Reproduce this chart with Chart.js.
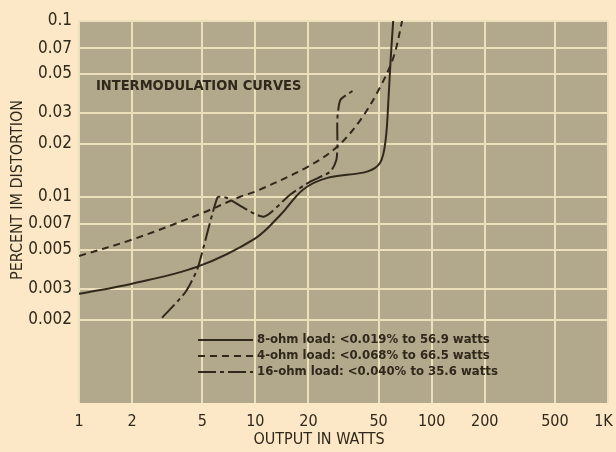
<!DOCTYPE html>
<html>
<head>
<meta charset="utf-8">
<script src="https://cdn.jsdelivr.net/npm/chart.js@4.4.0/dist/chart.umd.min.js"></script>
<style>
    html, body { margin: 0; padding: 0; background: #fce8c6; }
    #grafica { display: block; }
</style>
</head>
<body>
<canvas id="grafica" width="616" height="452"></canvas>
<script>
//marcas de los ejes
const ticksX = [1, 2, 5, 10, 20, 50, 100, 200, 500, 1000]
const etiquetasX = ['1', '2', '5', '10', '20', '50', '100', '200', '500', '1K']
const ticksY = [0.1, 0.07, 0.05, 0.03, 0.02, 0.01, 0.007, 0.005, 0.003, 0.002]
const etiquetasY = ['0.1', '0.07', '0.05', '0.03', '0.02', '0.01', '0.007', '0.005', '0.003', '0.002']

//curva solida (watts / % IM)
const solidaW = [1, 2, 4.7, 10, 13.9, 18.7, 25.6, 43, 51, 54.8, 56.9, 58.5, 60.5]
const solidaIM = [0.0028, 0.0032, 0.004, 0.0058, 0.0079, 0.011, 0.0128, 0.0139, 0.0156, 0.021, 0.036, 0.06, 0.1]

//curva a trazos
const trazosW = [1, 2, 4.9, 8.2, 10, 19.8, 29.2, 39.5, 51, 61, 68]
const trazosIM = [0.0046, 0.0057, 0.008, 0.01, 0.0107, 0.0148, 0.0193, 0.0274, 0.042, 0.063, 0.1]

//curva trazo-punto
const puntoW = [2.96, 4.0, 4.7, 6.1, 6.8, 11.1, 15.8, 20.5, 26.7, 28.8, 29.2, 29.2, 30.4, 35.6]
const puntoIM = [0.00205, 0.00285, 0.0039, 0.0099, 0.0099, 0.0077, 0.0103, 0.0122, 0.0139, 0.0162, 0.019, 0.028, 0.0356, 0.04]

//textos
const titulo = 'INTERMODULATION CURVES'
const tituloY = 'PERCENT IM DISTORTION'
const tituloX = 'OUTPUT IN WATTS'
const leyenda = ['8-ohm load: <0.019% to 56.9 watts', '4-ohm load: <0.068% to 66.5 watts', '16-ohm load: <0.040% to 35.6 watts']

const tinta = 'rgb(48, 40, 26)'
const fuente = '"Liberation Sans Narrow", "DejaVu Sans Condensed", sans-serif'

function puntos(xs, ys) {
    return xs.map(function (x, i) {
        return { x: x, y: ys[i] };
    });
}

const estilos = [
    { dash: [], tension: 0.35 },
    { dash: [7, 5], tension: 0.35 },
    { dash: [18, 4, 4, 4], tension: 0.2 }
]

//fondo, textos y leyenda
const decorado = {
    id: 'decorado',
    beforeDraw(chart) {
        const ctx = chart.ctx
        const a = chart.chartArea
        ctx.save()
        ctx.fillStyle = '#fce8c6'
        ctx.fillRect(0, 0, chart.width, chart.height)
        ctx.fillStyle = 'rgb(178, 168, 140)'
        ctx.fillRect(a.left, a.top, a.right - a.left, a.bottom - a.top)
        ctx.restore()
    },
    afterDraw(chart) {
        const ctx = chart.ctx
        ctx.save()
        ctx.fillStyle = tinta
        ctx.textBaseline = 'middle'
        ctx.font = 'bold 14.5px ' + fuente
        ctx.textAlign = 'left'
        ctx.fillText(titulo, 96, 86)

        ctx.font = '16px ' + fuente
        ctx.textAlign = 'center'
        ctx.fillText(tituloX, 319, 440)
        ctx.translate(18, 190)
        ctx.rotate(-Math.PI / 2)
        ctx.fillText(tituloY, 0, 0)
        ctx.restore()

        //leyenda
        ctx.save()
        ctx.font = 'bold 13px ' + fuente
        ctx.textBaseline = 'middle'
        ctx.fillStyle = tinta
        ctx.strokeStyle = tinta
        ctx.lineWidth = 2
        leyenda.forEach(function (t, i) {
            const y = 340 + i * 16
            ctx.setLineDash(estilos[i].dash)
            ctx.beginPath()
            ctx.moveTo(198, y)
            ctx.lineTo(253, y)
            ctx.stroke()
            ctx.fillText(t, 257, y)
        })
        ctx.restore()
    }
}

const series = [puntos(solidaW, solidaIM), puntos(trazosW, trazosIM), puntos(puntoW, puntoIM)]

const ctx = document.getElementById('grafica').getContext('2d')
const chart = new Chart(ctx, {
    type: 'scatter',
    data: {
        datasets: series.map(function (d, i) {
            return {
                data: d,
                showLine: true,
                borderColor: tinta,
                borderWidth: 2,
                borderDash: estilos[i].dash,
                tension: estilos[i].tension,
                pointRadius: 0,
                fill: false
            }
        })
    },
    options: {
        responsive: false,
        animation: false,
        layout: { padding: { top: 21, right: 8, left: 0, bottom: 0 } },
        plugins: {
            legend: { display: false },
            tooltip: { enabled: false }
        },
        scales: {
            x: {
                type: 'logarithmic',
                min: 1,
                max: 1000,
                afterBuildTicks(s) { s.ticks = ticksX.map(v => ({ value: v })) },
                afterFit(s) { s.height = 49; s.paddingLeft = 0; s.paddingRight = 0 },
                grid: { color: 'rgb(236, 224, 188)', lineWidth: 2, drawTicks: false },
                border: { display: false },
                ticks: {
                    autoSkip: false,
                    maxRotation: 0,
                    padding: 9,
                    color: tinta,
                    font: { family: fuente, size: 16 },
                    callback: function (v) {
                        const i = ticksX.indexOf(v)
                        //el ultimo se corre un poco a la izquierda para que no se corte
                        return i == ticksX.length - 1 ? etiquetasX[i] + '\u00a0\u00a0' : etiquetasX[i]
                    }
                }
            },
            y: {
                type: 'logarithmic',
                min: 0.00067,
                max: 0.1,
                afterBuildTicks(s) { s.ticks = ticksY.map(v => ({ value: v })) },
                afterFit(s) { s.width = 79; s.paddingTop = 0; s.paddingBottom = 0 },
                grid: { color: 'rgb(236, 224, 188)', lineWidth: 2, drawTicks: false },
                border: { display: false },
                ticks: {
                    autoSkip: false,
                    padding: 7,
                    color: tinta,
                    font: { family: fuente, size: 17 },
                    callback: function (v) { return etiquetasY[ticksY.indexOf(v)] }
                }
            }
        }
    },
    plugins: [decorado]
})
</script>
</body>
</html>
